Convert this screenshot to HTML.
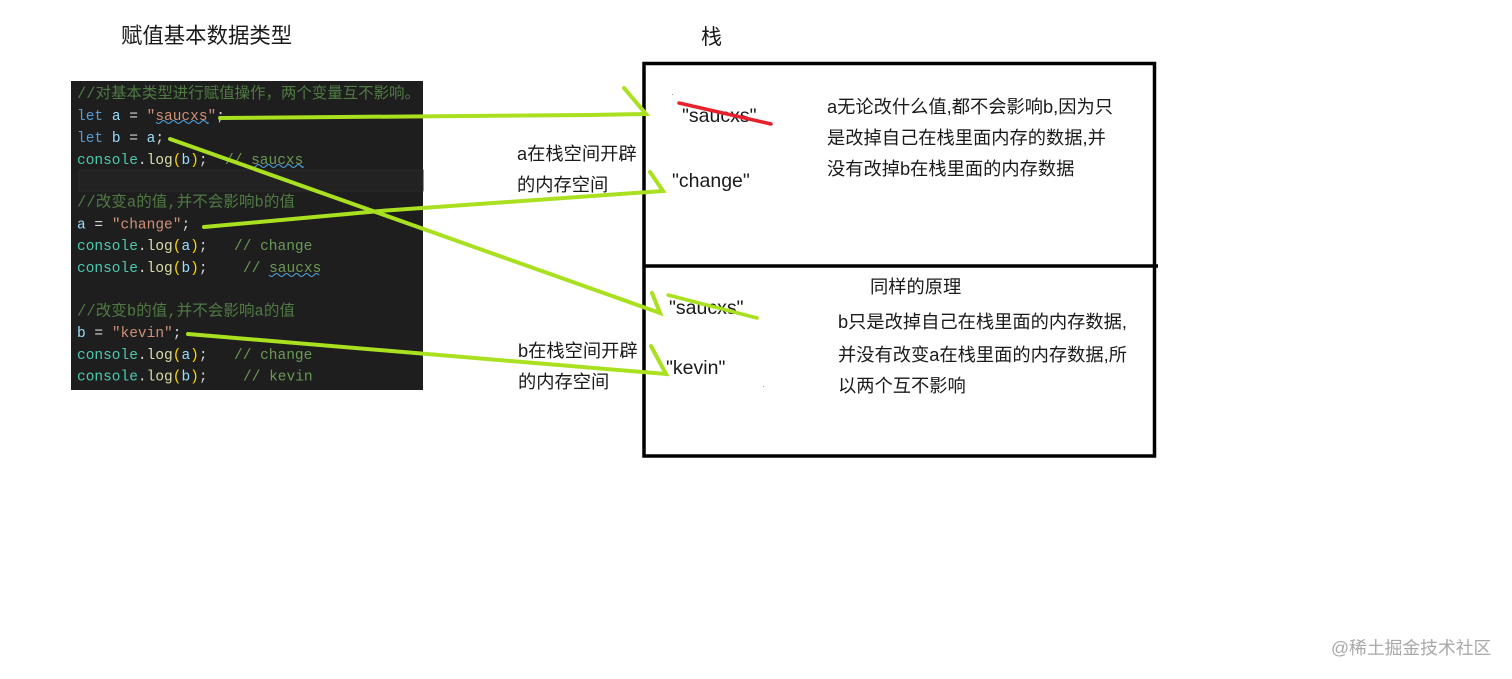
<!DOCTYPE html>
<html lang="zh">
<head>
<meta charset="utf-8">
<style>
html,body{margin:0;padding:0;background:#fff;width:1512px;height:679px;overflow:hidden}
svg{display:block}
.cn{font-family:"Liberation Sans","Noto Sans CJK SC",sans-serif;font-size:18.25px;fill:#1a1a1a}
.lat{font-family:"Liberation Sans","Noto Sans CJK SC",sans-serif;font-size:19.5px;fill:#1a1a1a}
.code{font-family:"Liberation Mono","Noto Sans CJK SC",monospace;font-size:14.5px;fill:#d4d4d4;white-space:pre}
.k{fill:#569cd6}.v{fill:#9cdcfe}.s{fill:#ce9178}.c{fill:#6a9955}.t{fill:#4ec9b0}.f{fill:#dcdcaa}.y{fill:#ffd700}
.cm{fill:#4f7a42;font-size:15.5px}
.g{stroke:#a9e01f;fill:none;stroke-width:4;stroke-linecap:round;stroke-linejoin:miter}
.sq{stroke:#4fa3dc;fill:none;stroke-width:1}
</style>
</head>
<body>
<svg width="1512" height="679" viewBox="0 0 1512 679" xmlns="http://www.w3.org/2000/svg">
<rect width="1512" height="679" fill="#fff"/>
<text class="cn" x="121" y="43" style="font-size:21.4px">赋值基本数据类型</text>
<text class="cn" x="701" y="44" style="font-size:21px">栈</text>

<rect x="71" y="81" width="352" height="309" fill="#1e1e1e"/>
<rect x="79" y="170" width="344" height="21" fill="#222" stroke="#2a2a2a"/>

<text class="code cm" x="77" y="98" textLength="343">//对基本类型进行赋值操作，两个变量互不影响。</text>
<text class="code" x="77" y="120"><tspan class="k">let</tspan> <tspan class="v">a</tspan> = <tspan class="s">"saucxs"</tspan>;</text>
<text class="code" x="77" y="142"><tspan class="k">let</tspan> <tspan class="v">b</tspan> = <tspan class="v">a</tspan>;</text>
<text class="code" x="77" y="164"><tspan class="t">console</tspan>.<tspan class="f">log</tspan><tspan class="y">(</tspan><tspan class="v">b</tspan><tspan class="y">)</tspan>;<tspan x="225" class="c">// saucxs</tspan></text>
<text class="code cm" x="77" y="206.500" textLength="218">//改变a的值,并不会影响b的值</text>
<text class="code" x="77" y="228.500"><tspan class="v">a</tspan> = <tspan class="s">"change"</tspan>;</text>
<text class="code" x="77" y="250"><tspan class="t">console</tspan>.<tspan class="f">log</tspan><tspan class="y">(</tspan><tspan class="v">a</tspan><tspan class="y">)</tspan>;<tspan x="234" class="c">// change</tspan></text>
<text class="code" x="77" y="272"><tspan class="t">console</tspan>.<tspan class="f">log</tspan><tspan class="y">(</tspan><tspan class="v">b</tspan><tspan class="y">)</tspan>;<tspan x="243" class="c">// saucxs</tspan></text>
<text class="code cm" x="77" y="315.500" textLength="218">//改变b的值,并不会影响a的值</text>
<text class="code" x="77" y="337"><tspan class="v">b</tspan> = <tspan class="s">"kevin"</tspan>;</text>
<text class="code" x="77" y="359"><tspan class="t">console</tspan>.<tspan class="f">log</tspan><tspan class="y">(</tspan><tspan class="v">a</tspan><tspan class="y">)</tspan>;<tspan x="234" class="c">// change</tspan></text>
<text class="code" x="77" y="380.500"><tspan class="t">console</tspan>.<tspan class="f">log</tspan><tspan class="y">(</tspan><tspan class="v">b</tspan><tspan class="y">)</tspan>;<tspan x="243" class="c">// kevin</tspan></text>
<path class="sq" d="M156 122q2.500 3 5 0t5 0t5 0t5 0t5 0t5 0t5 0t5 0t5 0t5 0t2 0"/>
<path class="sq" d="M251 166q2.500 3 5 0t5 0t5 0t5 0t5 0t5 0t5 0t5 0t5 0t5 0t2 0"/>
<path class="sq" d="M269 275q2.500 3 5 0t5 0t5 0t5 0t5 0t5 0t5 0t5 0t5 0t5 0"/>

<rect x="644" y="63.500" width="510.500" height="392.500" fill="none" stroke="#000" stroke-width="3.500"/>
<line x1="644" y1="266" x2="1158" y2="266" stroke="#000" stroke-width="3.500"/>

<text class="lat" x="682" y="122">"saucxs"</text>
<text class="lat" x="672" y="187">"change"</text>
<text class="lat" x="669" y="314">"saucxs"</text>
<text class="lat" x="666" y="374">"kevin"</text>

<text class="cn" x="517" y="160">a在栈空间开辟</text>
<text class="cn" x="517" y="191">的内存空间</text>
<text class="cn" x="518" y="357">b在栈空间开辟</text>
<text class="cn" x="518" y="388">的内存空间</text>

<text class="cn" x="827" y="113">a无论改什么值,都不会影响b,因为只</text>
<text class="cn" x="827" y="144">是改掉自己在栈里面内存的数据,并</text>
<text class="cn" x="827" y="175">没有改掉b在栈里面的内存数据</text>
<text class="cn" x="870" y="293">同样的原理</text>
<text class="cn" x="838" y="328">b只是改掉自己在栈里面的内存数据,</text>
<text class="cn" x="838" y="361">并没有改变a在栈里面的内存数据,所</text>
<text class="cn" x="838" y="392">以两个互不影响</text>

<line x1="679" y1="103" x2="771" y2="124" stroke="#e8202c" stroke-width="3.500" stroke-linecap="round"/>
<path class="g" d="M220 118L590 115L646 114L624 88"/>
<path class="g" d="M204 227L380 211L663 191L650 172"/>
<path class="g" d="M170 139L660 313L652 293"/>
<path class="g" d="M188 334L666 374L651 346"/>
<line x1="668" y1="295" x2="757" y2="318" stroke="#a9e01f" stroke-width="3.500" stroke-linecap="round"/>
<rect x="672" y="94" width="1" height="1" fill="#999"/>
<rect x="763" y="386" width="1" height="1" fill="#999"/>

<text x="1331" y="654" style="font-family:'Liberation Sans','Noto Sans CJK SC',sans-serif;font-size:17.8px" fill="#a8a8a8">@稀土掘金技术社区</text>
</svg>
</body>
</html>
